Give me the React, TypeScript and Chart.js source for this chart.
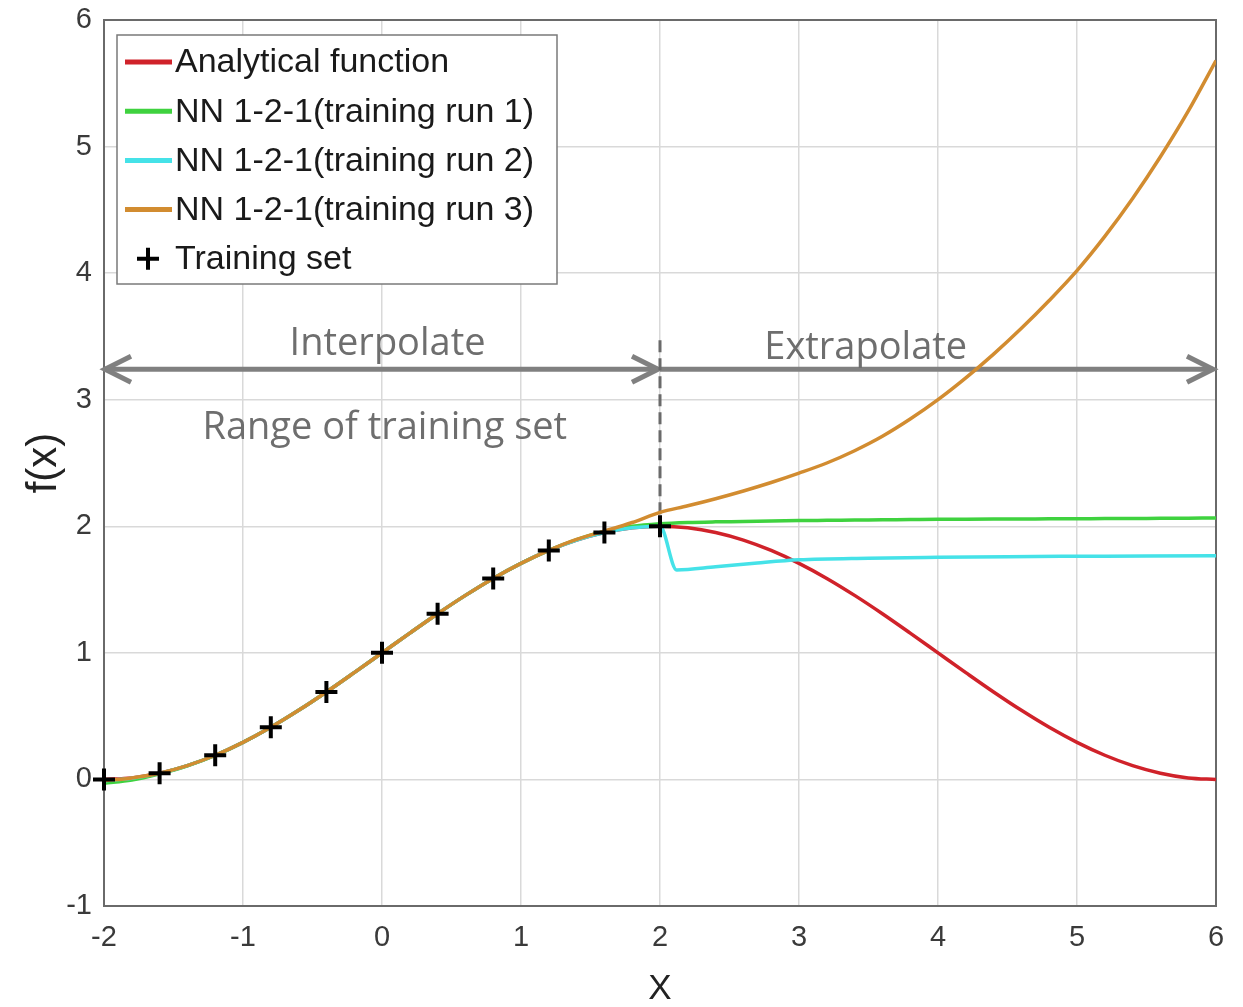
import React, { useEffect, useRef } from "react";
import { Chart, registerables } from "chart.js";

Chart.register(...registerables);

// ---------- data ----------
const X_STEP = [-2, -1.8, -1.6, -1.4, -1.2, -1, -0.8, -0.6, -0.4, -0.2, 0, 0.2, 0.4, 0.6, 0.8, 1, 1.2, 1.4, 1.6, 1.8, 2,
  2.2, 2.4, 2.6, 2.8, 3, 3.2, 3.4, 3.6, 3.8, 4, 4.2, 4.4, 4.6, 4.8, 5, 5.2, 5.4, 5.6, 5.8, 6];

const ANALYTIC = [0, 0.012, 0.049, 0.109, 0.191, 0.293, 0.412, 0.546, 0.691, 0.844, 1, 1.156, 1.309, 1.454, 1.588, 1.707, 1.809, 1.891, 1.951, 1.988, 2,
  1.988, 1.951, 1.891, 1.809, 1.707, 1.588, 1.454, 1.309, 1.156, 1, 0.844, 0.691, 0.546, 0.412, 0.293, 0.191, 0.109, 0.049, 0.012, 0];

const RUN1 = [-0.03, -0.005, 0.045, 0.108, 0.19, 0.293, 0.412, 0.546, 0.691, 0.844, 1, 1.156, 1.309, 1.454, 1.588, 1.707, 1.81, 1.895, 1.96, 2.0, 2.02,
  2.03, 2.035, 2.038, 2.042, 2.045, 2.047, 2.049, 2.051, 2.053, 2.055, 2.056, 2.057, 2.058, 2.059, 2.06, 2.061, 2.062, 2.063, 2.064, 2.065];

const X_RUN2 = [-2, -1.8, -1.6, -1.4, -1.2, -1, -0.8, -0.6, -0.4, -0.2, 0, 0.2, 0.4, 0.6, 0.8, 1, 1.2, 1.4, 1.6, 1.8, 2,
  2.12, 2.4, 2.7, 3, 3.5, 4, 4.5, 5, 5.5, 6];
const RUN2 = [-0.01, 0.01, 0.048, 0.109, 0.191, 0.293, 0.412, 0.546, 0.691, 0.844, 1, 1.156, 1.309, 1.454, 1.588, 1.707, 1.809, 1.891, 1.951, 1.988, 2,
  1.655, 1.68, 1.71, 1.735, 1.748, 1.755, 1.76, 1.763, 1.766, 1.768];

const RUN3 = [-0.01, 0.012, 0.049, 0.109, 0.191, 0.293, 0.412, 0.546, 0.691, 0.844, 1, 1.156, 1.309, 1.454, 1.588, 1.707, 1.81, 1.897, 1.962, 2.03, 2.11,
  2.162, 2.218, 2.279, 2.346, 2.42, 2.5, 2.597, 2.711, 2.847, 3.0, 3.172, 3.36, 3.564, 3.784, 4.02, 4.29, 4.59, 4.92, 5.28, 5.68];

const TRAIN_X = [-2, -1.6, -1.2, -0.8, -0.4, 0, 0.4, 0.8, 1.2, 1.6, 2];
const TRAIN_Y = [0, 0.049, 0.191, 0.412, 0.691, 1, 1.309, 1.588, 1.809, 1.951, 2];

const SERIES_LABELS = [
  "Analytical function",
  "NN 1-2-1(training run 1)",
  "NN 1-2-1(training run 2)",
  "NN 1-2-1(training run 3)",
  "Training set",
];
const SERIES_COLORS = ["#d0222a", "#3fd23f", "#45e2e8", "#d28c30", "#000000"];

const X_TICKS = [-2, -1, 0, 1, 2, 3, 4, 5, 6];
const Y_TICKS = [-1, 0, 1, 2, 3, 4, 5, 6];

// annotations (data coordinates)
const ARROW_Y = 3.24;
const INTERP_RANGE = [-2, 2];
const EXTRAP_RANGE = [2, 6];
const DASH_X = 2;
const DASH_Y = [3.47, 2.0];
const ANNOT_TEXTS = ["Interpolate", "Extrapolate", "Range of training set"];
const ANNOT_TEXT_X = [0.04, 3.48, 0.02];
const ANNOT_TEXT_Y = [3.35, 3.32, 2.69];

const pts = (xs: number[], ys: number[]) => xs.map((x, i) => ({ x, y: ys[i] }));

const SANS = "'Liberation Sans', Arial, sans-serif";
const ANNOT_FONT = "'Open Sans', sans-serif";

function arrowHead(ctx: CanvasRenderingContext2D, tx: number, ty: number, dir: number) {
  ctx.beginPath();
  ctx.moveTo(tx - dir * 26, ty - 13);
  ctx.lineTo(tx, ty);
  ctx.lineTo(tx - dir * 26, ty + 13);
  ctx.stroke();
}

const annotPlugin = {
  id: "annot",
  beforeDatasetsDraw(chart: any) {
    const { ctx, chartArea: a, scales } = chart;
    const xs = scales.x, ys = scales.y;
    ctx.save();
    // box
    ctx.strokeStyle = "#6a6a6a";
    ctx.lineWidth = 2;
    ctx.strokeRect(a.left, a.top, a.right - a.left, a.bottom - a.top);

    // arrows
    const ay = ys.getPixelForValue(ARROW_Y);
    ctx.strokeStyle = "#808080";
    ctx.lineWidth = 5;
    ctx.lineJoin = "miter";
    const i0 = xs.getPixelForValue(INTERP_RANGE[0]) + 1;
    const i1 = xs.getPixelForValue(INTERP_RANGE[1]) - 2;
    ctx.beginPath();
    ctx.moveTo(i0, ay);
    ctx.lineTo(i1, ay);
    ctx.stroke();
    arrowHead(ctx, i0, ay, -1);
    arrowHead(ctx, i1, ay, 1);
    const e0 = xs.getPixelForValue(EXTRAP_RANGE[0]);
    const e1 = xs.getPixelForValue(EXTRAP_RANGE[1]) - 3;
    ctx.beginPath();
    ctx.moveTo(e0, ay);
    ctx.lineTo(e1, ay);
    ctx.stroke();
    arrowHead(ctx, e1, ay, 1);

    // dashed line
    ctx.strokeStyle = "#6a6a6a";
    ctx.lineWidth = 3;
    ctx.setLineDash([12, 6]);
    const dx = xs.getPixelForValue(DASH_X);
    ctx.beginPath();
    ctx.moveTo(dx, ys.getPixelForValue(DASH_Y[0]));
    ctx.lineTo(dx, ys.getPixelForValue(DASH_Y[1]));
    ctx.stroke();
    ctx.setLineDash([]);

    // texts
    ctx.fillStyle = "#6e6e6e";
    ctx.font = `38px ${ANNOT_FONT}`;
    ctx.textAlign = "center";
    ctx.textBaseline = "alphabetic";
    ANNOT_TEXTS.forEach((t, i) => {
      ctx.fillText(t, xs.getPixelForValue(ANNOT_TEXT_X[i]), ys.getPixelForValue(ANNOT_TEXT_Y[i]));
    });
    ctx.restore();
  },
  afterDraw(chart: any) {
    const { ctx, chartArea: a } = chart;
    ctx.save();
    const bx = a.left + 13, by = a.top + 15, bw = 440, bh = 249;
    ctx.fillStyle = "#ffffff";
    ctx.fillRect(bx, by, bw, bh);
    ctx.strokeStyle = "#7a7a7a";
    ctx.lineWidth = 1.5;
    ctx.strokeRect(bx, by, bw, bh);
    ctx.font = `34px ${SANS}`;
    ctx.textAlign = "left";
    ctx.textBaseline = "middle";
    SERIES_LABELS.forEach((label, i) => {
      const cy = by + 27 + i * 49.2;
      if (i < 4) {
        ctx.strokeStyle = SERIES_COLORS[i];
        ctx.lineWidth = 5;
        ctx.beginPath();
        ctx.moveTo(bx + 8, cy);
        ctx.lineTo(bx + 55, cy);
        ctx.stroke();
      } else {
        ctx.strokeStyle = "#000";
        ctx.lineWidth = 4;
        ctx.beginPath();
        ctx.moveTo(bx + 20, cy);
        ctx.lineTo(bx + 42, cy);
        ctx.moveTo(bx + 31, cy - 11);
        ctx.lineTo(bx + 31, cy + 11);
        ctx.stroke();
      }
      ctx.fillStyle = "#1a1a1a";
      ctx.fillText(label, bx + 58, cy + 1);
    });
    ctx.restore();
  },
};

export default function App() {
  const ref = useRef<HTMLCanvasElement>(null);
  useEffect(() => {
    const lineDs = (i: number, data: any[], order: number) => ({
      label: SERIES_LABELS[i],
      data,
      borderColor: SERIES_COLORS[i],
      backgroundColor: SERIES_COLORS[i],
      borderWidth: 3.5,
      pointRadius: 0,
      fill: false,
      cubicInterpolationMode: "monotone" as const,
      order,
    });
    const chart = new Chart(ref.current!, {
      type: "line",
      data: {
        datasets: [
          lineDs(0, pts(X_STEP, ANALYTIC), 5),
          lineDs(1, pts(X_STEP, RUN1), 4),
          lineDs(2, pts(X_RUN2, RUN2), 3),
          lineDs(3, pts(X_STEP, RUN3), 2),
          {
            label: SERIES_LABELS[4],
            data: pts(TRAIN_X, TRAIN_Y),
            showLine: false,
            pointStyle: "cross",
            pointRadius: 11,
            pointBorderWidth: 4,
            borderColor: "#000",
            backgroundColor: "#000",
            clip: false,
            order: 1,
          } as any,
        ],
      },
      options: {
        animation: false,
        responsive: true,
        maintainAspectRatio: false,
        layout: { padding: { top: 20, right: 27, bottom: 0, left: 0 } },
        plugins: { legend: { display: false }, tooltip: { enabled: false } },
        scales: {
          x: {
            type: "linear",
            min: X_TICKS[0],
            max: X_TICKS[X_TICKS.length - 1],
            afterBuildTicks: (s: any) => { s.ticks = X_TICKS.map((v) => ({ value: v })); },
            ticks: { color: "#3a3a3a", font: { family: SANS, size: 29 }, padding: 15 },
            grid: { color: "#d9d9d9", lineWidth: 1.5, drawTicks: false },
            border: { display: true, color: "#666", width: 2 },
            title: { display: true, text: "X", color: "#222", font: { family: SANS, size: 35 }, padding: { top: 0, bottom: -3 } },
            afterFit: (s: any) => { s.height = 101; s.paddingLeft = 0; s.paddingRight = 0; },
          },
          y: {
            type: "linear",
            min: Y_TICKS[0],
            max: Y_TICKS[Y_TICKS.length - 1],
            afterBuildTicks: (s: any) => { s.ticks = Y_TICKS.map((v) => ({ value: v })); },
            ticks: { color: "#3a3a3a", font: { family: SANS, size: 29 }, padding: 12 },
            grid: { color: "#d9d9d9", lineWidth: 1.5, drawTicks: false },
            border: { display: true, color: "#666", width: 2 },
            title: { display: true, text: "f(x)", color: "#222", font: { family: SANS, size: 42 }, padding: { top: 19, bottom: 0 } },
            afterFit: (s: any) => { s.width = 104; s.paddingTop = 0; s.paddingBottom = 0; },
          },
        },
      },
      plugins: [annotPlugin],
    });
    return () => chart.destroy();
  }, []);
  return (
    <div style={{ position: "absolute", left: 0, top: 0, width: 1243, height: 1007, background: "#fff" }}>
      <canvas ref={ref} />
    </div>
  );
}
